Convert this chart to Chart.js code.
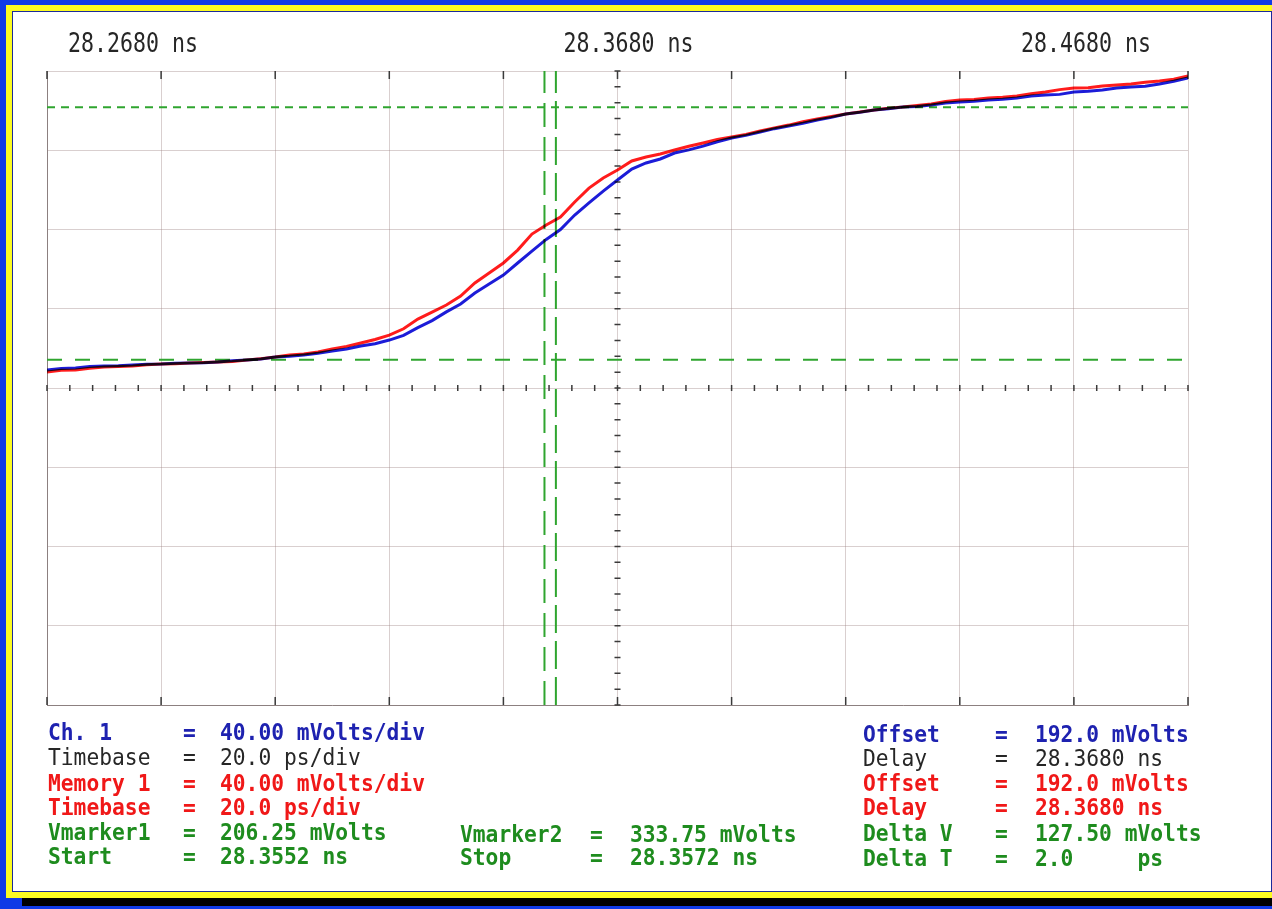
<!DOCTYPE html>
<html>
<head>
<meta charset="utf-8">
<script src="https://cdn.jsdelivr.net/npm/chart.js@4.4.1/dist/chart.umd.min.js"></script>
<style>
  html, body { margin: 0; padding: 0; }
  body { width: 1272px; height: 909px; background: #0f3ae6; position: relative; overflow: hidden; font-family: "DejaVu Sans Mono", monospace; }
  #yellow { position: absolute; left: 6px; top: 5px; width: 1266px; height: 893px; background: #fbfb22; }
  #black { position: absolute; left: 22px; top: 898px; width: 1250px; height: 8px; background: #000; }
  #paper { position: absolute; left: 12px; top: 11px; width: 1260px; height: 881px; background: #fff; border: 1px solid #1a2a9a; box-sizing: border-box; }
  #myChart { position: absolute; left: 0; top: 0; }
  .t { position: absolute; font-size: 23px; line-height: 23px; white-space: pre; transform: scaleX(0.925); transform-origin: 0 0; }
</style>
</head>
<body>
<div id="yellow"></div>
<div id="black"></div>
<div id="paper"></div>
<canvas id="myChart" width="1272" height="909"></canvas>
<div id="info"></div>
<script>
// scope settings
const delayNs = 28.368;
const offsetMv = 192.0;
const mvPerDiv = 40;
const psPerDiv = 20;
const vmarker1 = 206.25;
const vmarker2 = 333.75;
const startNs = 28.3552;
const stopNs = 28.3572;

// time axis in ps relative to the delay
const timePs = [-100, -97.5, -95, -92.5, -90, -87.5, -85, -82.5, -80, -77.5, -75, -72.5, -70, -67.5, -65, -62.5,
  -60, -57.5, -55, -52.5, -50, -47.5, -45, -42.5, -40, -37.5, -35, -32.5, -30, -27.5, -25, -22.5,
  -20, -17.5, -15, -12.5, -10, -7.5, -5, -2.5, 0, 2.5, 5, 7.5, 10, 12.5, 15, 17.5, 20, 22.5, 25, 27.5,
  30, 32.5, 35, 37.5, 40, 42.5, 45, 47.5, 50, 52.5, 55, 57.5, 60, 62.5, 65, 67.5, 70, 72.5, 75, 77.5,
  80, 82.5, 85, 87.5, 90, 92.5, 95, 97.5, 100];

// Ch. 1 (blue), mV
const ch1Mv = [201.1, 201.8, 202.1, 202.9, 203.1, 203.2, 203.6, 204.0, 204.1, 204.5,
  204.6, 204.7, 205.1, 205.7, 206.1, 206.6, 207.6, 208.0, 208.7, 209.5,
  210.7, 211.7, 213.2, 214.3, 216.2, 218.6, 222.5, 226.0, 230.4, 234.4,
  239.9, 244.5, 249.0, 255.1, 261.1, 267.0, 272.0, 279.3, 285.4, 291.4,
  297.0, 302.5, 305.6, 307.6, 310.6, 312.2, 314.1, 316.3, 318.2, 319.5,
  321.2, 322.9, 324.2, 325.6, 327.3, 328.6, 330.3, 331.2, 332.3, 333.0,
  333.8, 334.1, 334.8, 335.8, 336.3, 336.7, 337.4, 337.8, 338.4, 339.4,
  339.9, 340.2, 341.4, 341.8, 342.4, 343.4, 343.9, 344.3, 345.4, 346.8,
  348.5];

// Memory 1 (red), mV
const mem1Mv = [200.1, 200.9, 201.1, 202.0, 202.6, 202.8, 203.1, 203.7, 204.1, 204.3,
  204.6, 204.9, 205.1, 205.4, 206.1, 206.8, 207.6, 208.6, 209.2, 210.2,
  211.7, 213.0, 214.7, 216.5, 218.7, 221.9, 226.8, 230.3, 233.9, 238.4,
  245.0, 250.0, 255.1, 261.6, 269.7, 274.3, 278.3, 285.9, 292.9, 298.0,
  302.0, 306.6, 308.6, 310.1, 312.1, 314.0, 315.7, 317.4, 318.7, 320.0,
  321.7, 323.3, 324.7, 326.4, 327.8, 329.0, 330.3, 331.3, 332.3, 333.2,
  333.8, 334.6, 335.3, 336.6, 337.4, 337.6, 338.4, 338.8, 339.4, 340.5,
  341.4, 342.6, 343.4, 343.5, 344.4, 344.9, 345.4, 346.3, 346.9, 347.8,
  349.5];

// labels printed above the grid
const topTickNs = [28.2680, 28.3680, 28.4680];

const BLUE = "#1e22b0";
const BLACK = "#262626";
const RED = "#f01818";
const GREEN = "#1e8c1e";

const yMin = offsetMv - 4 * mvPerDiv;
const yMax = offsetMv + 4 * mvPerDiv;
const xMin = -5 * psPerDiv;
const xMax = 5 * psPerDiv;
const toPs = ns => +((ns - delayNs) * 1000).toFixed(3);

const pts = arr => arr.map((v, i) => ({ x: timePs[i], y: v }));

// red over blue prints black, like the plotter ink
const inkBlend = {
  id: "inkBlend",
  beforeDatasetDraw(chart, args) {
    if (chart.data.datasets[args.index].blend) {
      chart.ctx.save();
      chart.ctx.globalCompositeOperation = "multiply";
    }
  },
  afterDatasetDraw(chart, args) {
    if (chart.data.datasets[args.index].blend) chart.ctx.restore();
  }
};

// graticule ticks and the top time labels
const scopeMarks = {
  id: "scopeMarks",
  beforeDatasetsDraw(chart) {
    const { ctx, chartArea: a, scales: { x, y } } = chart;
    const x0 = x.getPixelForValue(0);
    const y0 = y.getPixelForValue(offsetMv);
    ctx.save();
    ctx.strokeStyle = "#3a3a3a";
    ctx.lineWidth = 1.5;
    ctx.beginPath();
    for (let t = xMin; t <= xMax; t += psPerDiv / 5) {
      const px = x.getPixelForValue(t);
      ctx.moveTo(px, y0 - 3); ctx.lineTo(px, y0 + 3);
    }
    for (let v = yMin; v <= yMax; v += mvPerDiv / 5) {
      const py = y.getPixelForValue(v);
      ctx.moveTo(x0 - 3, py); ctx.lineTo(x0 + 3, py);
    }
    for (let t = xMin; t <= xMax; t += psPerDiv) {
      const px = x.getPixelForValue(t);
      ctx.moveTo(px, a.top); ctx.lineTo(px, a.top + 8);
      ctx.moveTo(px, a.bottom - 8); ctx.lineTo(px, a.bottom);
    }
    ctx.stroke();
    ctx.restore();
  },
  afterDraw(chart) {
    const { ctx, chartArea: a, scales: { x } } = chart;
    ctx.save();
    ctx.fillStyle = BLACK;
    ctx.font = "26px 'DejaVu Sans Mono'";
    ctx.textBaseline = "alphabetic";
    const sx = 0.83;
    topTickNs.forEach((ns, i) => {
      const txt = ns.toFixed(4) + " ns";
      const w = ctx.measureText(txt).width * sx;
      let px = x.getPixelForValue(toPs(ns));
      if (i === 0) px = px + 21;
      else if (i === topTickNs.length - 1) px = px - 167;
      else px = px - w / 2 + 11;
      ctx.save();
      ctx.translate(px, a.top - 19);
      ctx.scale(sx, 1);
      ctx.fillText(txt, 0, 0);
      ctx.restore();
    });
    ctx.restore();
  }
};

const gridColor = "rgba(160, 135, 135, 0.4)";

const ctx = document.getElementById("myChart");
new Chart(ctx, {
  type: "line",
  data: {
    datasets: [
      {
        label: "Ch. 1",
        data: pts(ch1Mv),
        borderColor: "#1c1cd8",
        borderWidth: 3,
        pointRadius: 0,
        blend: true
      },
      {
        label: "Memory 1",
        data: pts(mem1Mv),
        borderColor: "#ff1c1c",
        borderWidth: 3,
        pointRadius: 0,
        blend: true
      },
      {
        label: "Vmarker1",
        data: [{ x: xMin, y: vmarker1 }, { x: xMax, y: vmarker1 }],
        borderColor: "#2fa52f",
        borderWidth: 2,
        borderDash: [15, 13],
        pointRadius: 0
      },
      {
        label: "Vmarker2",
        data: [{ x: xMin, y: vmarker2 }, { x: xMax, y: vmarker2 }],
        borderColor: "#2fa52f",
        borderWidth: 2,
        borderDash: [8, 6],
        pointRadius: 0
      },
      {
        label: "Start",
        data: [{ x: toPs(startNs), y: yMin }, { x: toPs(startNs), y: yMax }],
        borderColor: "#2fa52f",
        borderWidth: 2,
        borderDash: [24, 10],
        pointRadius: 0
      },
      {
        label: "Stop",
        data: [{ x: toPs(stopNs), y: yMin }, { x: toPs(stopNs), y: yMax }],
        borderColor: "#2fa52f",
        borderWidth: 2,
        borderDash: [28, 8],
        pointRadius: 0
      }
    ]
  },
  options: {
    responsive: false,
    animation: false,
    layout: { padding: { left: 47, right: 84, top: 71, bottom: 204 } },
    plugins: { legend: { display: false }, tooltip: { enabled: false } },
    scales: {
      x: {
        type: "linear",
        min: xMin,
        max: xMax,
        ticks: { display: false, stepSize: psPerDiv },
        grid: { color: gridColor, drawTicks: false, lineWidth: 1 },
        border: { display: true, color: "#8c8080" },
        afterFit: s => { s.height = 0; }
      },
      y: {
        min: yMin,
        max: yMax,
        ticks: { display: false, stepSize: mvPerDiv },
        grid: { color: gridColor, drawTicks: false, lineWidth: 1 },
        border: { display: true, color: "#8c8080" },
        afterFit: s => { s.width = 0; }
      }
    }
  },
  plugins: [inkBlend, scopeMarks]
});

// readout block under the grid
const leftRows = [
  ["Ch. 1", mvPerDiv.toFixed(2) + " mVolts/div", BLUE],
  ["Timebase", psPerDiv.toFixed(1) + " ps/div", BLACK],
  ["Memory 1", mvPerDiv.toFixed(2) + " mVolts/div", RED],
  ["Timebase", psPerDiv.toFixed(1) + " ps/div", RED],
  ["Vmarker1", vmarker1.toFixed(2) + " mVolts", GREEN],
  ["Start", startNs.toFixed(4) + " ns", GREEN]
];
const midRows = [
  ["Vmarker2", vmarker2.toFixed(2) + " mVolts", GREEN],
  ["Stop", stopNs.toFixed(4) + " ns", GREEN]
];
const rightRows = [
  ["Offset", offsetMv.toFixed(1) + " mVolts", BLUE],
  ["Delay", delayNs.toFixed(4) + " ns", BLACK],
  ["Offset", offsetMv.toFixed(1) + " mVolts", RED],
  ["Delay", delayNs.toFixed(4) + " ns", RED],
  ["Delta V", (vmarker2 - vmarker1).toFixed(2) + " mVolts", GREEN],
  ["Delta T", ((stopNs - startNs) * 1000).toFixed(1) + "     ps", GREEN]
];

const info = document.getElementById("info");
function addBlock(rows, tops, cols) {
  rows.forEach((r, i) => {
    [r[0], "=", r[1]].forEach((txt, j) => {
      const d = document.createElement("div");
      d.className = "t";
      d.textContent = txt;
      d.style.left = cols[j] + "px";
      d.style.top = tops[i] + "px";
      d.style.color = r[2];
      if (r[2] !== BLACK) d.style.fontWeight = "bold";
      info.appendChild(d);
    });
  });
}
addBlock(leftRows, [721, 746, 772, 796, 821, 845], [48, 183, 220]);
addBlock(midRows, [823, 846], [460, 590, 630]);
addBlock(rightRows, [723, 747, 772, 796, 822, 847], [863, 995, 1035]);
</script>
</body>
</html>
